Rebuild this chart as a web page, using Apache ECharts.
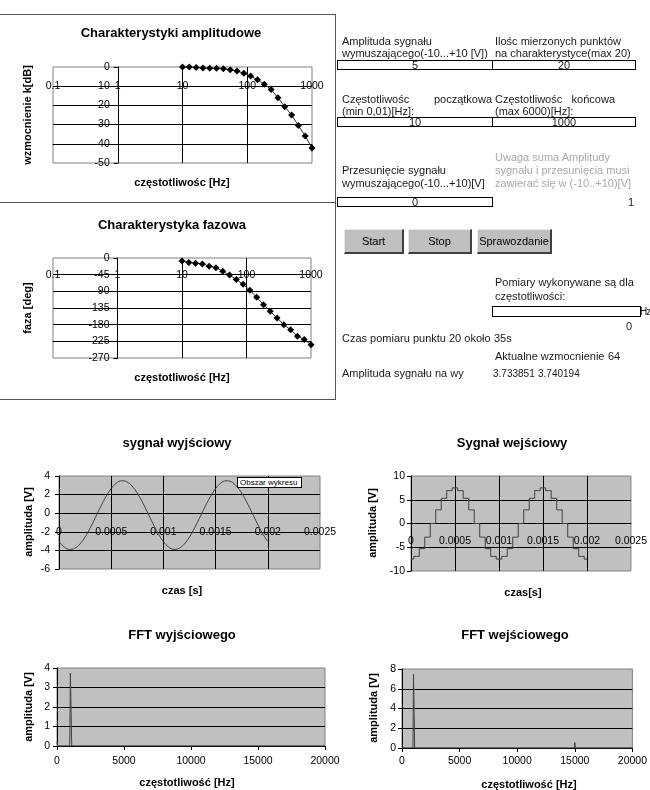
<!DOCTYPE html>
<html>
<head>
<meta charset="utf-8">
<script src="https://cdn.jsdelivr.net/npm/echarts@6/dist/echarts.min.js"></script>
<style>
  html, body { margin:0; padding:0; background:#fff; }
  body { width:650px; height:790px; overflow:hidden; position:relative;
         font-family:"Liberation Sans", Arial, sans-serif; }
  #chart { position:absolute; left:0; top:0; width:650px; height:790px; }
  .t { position:absolute; font-size:11px; line-height:13px; color:#1a1a1a; white-space:pre; }
  .g { color:#a8a8a8; }
  .nr { font-size:10px; }
  .box { position:absolute; border:1px solid #000; background:#fff; box-sizing:border-box;
         font-size:11px; color:#1a1a1a; display:flex; align-items:center; justify-content:center; }
  .btn { position:absolute; background:#c0c0c0; box-sizing:border-box; font-size:11px; color:#000;
         border-top:1px solid #e8e8e8; border-left:1px solid #e8e8e8;
         border-right:2px solid #404040; border-bottom:2px solid #404040;
         display:flex; align-items:center; justify-content:center; }
  .ln { position:absolute; background:#555; }
  .just { position:absolute; font-size:11px; line-height:13px; color:#1a1a1a;
          display:flex; justify-content:space-between; }
  .tip { position:absolute; border:1px solid #000; background:#fff; font-size:8px; line-height:9px;
         box-sizing:border-box; padding-left:2px; white-space:pre; color:#000; }
</style>
</head>
<body>
<div id="chart"></div>

<!-- ramki panelu wykresów -->
<div class="ln" style="left:0;top:14px;width:336px;height:1px"></div>
<div class="ln" style="left:335px;top:14px;width:1px;height:386px"></div>
<div class="ln" style="left:0;top:202px;width:336px;height:1px"></div>
<div class="ln" style="left:0;top:399px;width:336px;height:1px"></div>

<!-- formularz -->
<div class="t" style="left:342px;top:35px">Amplituda sygnału</div>
<div class="t" style="left:342px;top:47px">wymuszającego(-10...+10 [V])</div>
<div class="t" style="left:495px;top:35px">Ilośc mierzonych punktów</div>
<div class="t" style="left:495px;top:47px">na charakterystyce(max 20)</div>
<div class="box" style="left:337px;top:60px;width:156px;height:10px">5</div>
<div class="box" style="left:492px;top:60px;width:144px;height:10px">20</div>

<div class="just" style="left:342px;top:93px;width:150px"><span>Częstotliwośc</span><span>początkowa</span></div>
<div class="t" style="left:342px;top:105px">(min 0,01)[Hz]:</div>
<div class="just" style="left:495px;top:93px;width:120px"><span>Częstotliwośc</span><span>końcowa</span></div>
<div class="t" style="left:495px;top:105px">(max 6000)[Hz]:</div>
<div class="box" style="left:337px;top:117px;width:156px;height:10px">10</div>
<div class="box" style="left:492px;top:117px;width:144px;height:10px">1000</div>

<div class="t g" style="left:495px;top:151px">Uwaga suma Amplitudy</div>
<div class="t g" style="left:495px;top:164px">sygnału i przesunięcia musi</div>
<div class="t g" style="left:495px;top:177px">zawierać się w (-10..+10)[V]</div>
<div class="t" style="left:342px;top:164px">Przesunięcie sygnału</div>
<div class="t" style="left:342px;top:177px">wymuszającego(-10...+10)[V]</div>
<div class="box" style="left:337px;top:197px;width:156px;height:10px">0</div>
<div class="t" style="left:628px;top:196px">1</div>

<div class="btn" style="left:344px;top:229px;width:60px;height:25px">Start</div>
<div class="btn" style="left:408px;top:229px;width:64px;height:25px">Stop</div>
<div class="btn" style="left:477px;top:229px;width:75px;height:25px">Sprawozdanie</div>

<div class="t" style="left:495px;top:276px">Pomiary wykonywane są dla</div>
<div class="t" style="left:495px;top:290px">częstotliwości:</div>
<div class="box" style="left:492px;top:306px;width:149px;height:11px"></div>
<div class="t" style="left:640px;top:305px;font-size:10px;letter-spacing:-1px">Hz</div>
<div class="t" style="left:626px;top:320px">0</div>

<div class="t" style="left:342px;top:332px">Czas pomiaru punktu 20 około</div>
<div class="t" style="left:494px;top:332px">35s</div>
<div class="t" style="left:495px;top:350px">Aktualne wzmocnienie</div>
<div class="t" style="left:608px;top:350px">64</div>
<div class="t" style="left:342px;top:367px">Amplituda sygnału na wy</div>
<div class="t nr" style="left:493px;top:367px">3.733851</div>
<div class="t nr" style="left:538px;top:367px">3.740194</div>

<div class="tip" style="left:237px;top:477px;width:65px;height:11px">Obszar wykresu</div>

<script>
// dane charakterystyk (20 punktow 10..1000 Hz)
var freq = [10, 12.743, 16.238, 20.691, 26.367, 33.598, 42.813, 54.556, 69.519, 88.587,
            112.88, 143.84, 183.30, 233.57, 297.64, 379.27, 483.29, 615.85, 784.76, 1000];
var ampDb = [0, 0, -0.2, -0.5, -0.7, -0.7, -0.9, -1.4, -2.1, -3.3,
             -4.7, -6.6, -9.0, -11.7, -16.0, -20.7, -25.0, -30.5, -35.9, -42.2];
var phaseDeg = [-8, -12, -14, -16, -22, -26, -36, -46, -58, -71,
                -87, -106, -126, -144, -162, -180, -194, -211, -220, -234];

// sygnal wyjsciowy
var timeOut = [0, 0.00005, 0.0001, 0.00015, 0.0002, 0.00025, 0.0003, 0.00035, 0.0004, 0.00045,
               0.0005, 0.00055, 0.0006, 0.00065, 0.0007, 0.00075, 0.0008, 0.00085, 0.0009, 0.00095,
               0.001, 0.00105, 0.0011, 0.00115, 0.0012, 0.00125, 0.0013, 0.00135, 0.0014, 0.00145,
               0.0015, 0.00155, 0.0016, 0.00165, 0.0017, 0.00175, 0.0018, 0.00185, 0.0019, 0.00195, 0.002];
var sigOut = [-3.05, -3.64, -3.89, -3.78, -3.32, -2.56, -1.56, -0.43, 0.72, 1.78,
              2.65, 3.24, 3.49, 3.38, 2.92, 2.16, 1.16, 0.03, -1.12, -2.18,
              -3.05, -3.64, -3.89, -3.78, -3.32, -2.56, -1.56, -0.43, 0.72, 1.78,
              2.65, 3.24, 3.49, 3.38, 2.92, 2.16, 1.16, 0.03, -1.12, -2.18, -3.05];

// sygnal wejsciowy (schodkowy)
var timeIn = [0, 0.0000625, 0.000125, 0.0001875, 0.00025, 0.0003125, 0.000375, 0.0004375,
              0.0005, 0.0005625, 0.000625, 0.0006875, 0.00075, 0.0008125, 0.000875, 0.0009375,
              0.001, 0.0010625, 0.001125, 0.0011875, 0.00125, 0.0013125, 0.001375, 0.0014375,
              0.0015, 0.0015625, 0.001625, 0.0016875, 0.00175, 0.0018125, 0.001875, 0.0019375, 0.002];
var sigIn = [-7.5, -6.93, -5.3, -2.87, 0, 2.87, 5.3, 6.93,
             7.5, 6.93, 5.3, 2.87, 0, -2.87, -5.3, -6.93,
             -7.5, -6.93, -5.3, -2.87, 0, 2.87, 5.3, 6.93,
             7.5, 6.93, 5.3, 2.87, 0, -2.87, -5.3, -6.93, -7.5];

// widma FFT
var fftOutFreq = [0, 50, 950, 1000, 1050, 1100, 20000];
var fftOutAmp  = [0.2, 0, 0, 3.74, 1.87, 0, 0];
var fftInFreq  = [0, 950, 1000, 1050, 1100, 14950, 15000, 15050, 20000];
var fftInAmp   = [0, 0, 7.46, 3.74, 0, 0, 0.55, 0, 0];

function pairs(xs, ys) { return xs.map(function (x, i) { return [x, ys[i]]; }); }
function num(v) { return String(parseFloat(Number(v).toPrecision(6))); }

var FONT = '"Liberation Sans", Arial, sans-serif';
var black = '#000';
var gray = '#808080';
var lab = { fontSize: 10.5, color: black, fontFamily: FONT, formatter: num };

var chart = echarts.init(document.getElementById('chart'));

function titleAt(text, x, y) {
  return { text: text, left: x, top: y, textAlign: 'center', textVerticalAlign: 'middle', padding: 0,
           textStyle: { fontSize: 13, fontWeight: 'bold', color: black, fontFamily: FONT } };
}
function nameAt(text, x, y, rot) {
  return { type: 'text', x: x, y: y, rotation: rot ? Math.PI / 2 : 0,
           style: { text: text, align: 'center', verticalAlign: 'middle',
                    font: 'bold 11px ' + FONT, fill: black } };
}
function splitBlack() {
  return { show: true, showMinLine: false, showMaxLine: false, lineStyle: { color: black, width: 1 } };
}

var option = {
  animation: false,
  title: [
    titleAt('Charakterystyki amplitudowe', 171, 33),
    titleAt('Charakterystyka fazowa', 172, 225),
    titleAt('sygnał wyjściowy', 177, 443),
    titleAt('Sygnał wejściowy', 512, 443),
    titleAt('FFT wyjściowego', 182, 635),
    titleAt('FFT wejściowego', 515, 635)
  ],
  graphic: [
    nameAt('wzmocnienie k[dB]', 28, 115, true),
    nameAt('częstotliwośc [Hz]', 182, 183, false),
    nameAt('faza [deg]', 28, 308, true),
    nameAt('częstotliwość [Hz]', 182, 378, false),
    nameAt('amplituda [V]', 29, 522, true),
    nameAt('czas [s]', 182, 591, false),
    nameAt('amplituda [V]', 373, 523, true),
    nameAt('czas[s]', 523, 593, false),
    nameAt('amplituda [V]', 29, 707, true),
    nameAt('częstotliwość [Hz]', 187, 783, false),
    nameAt('amplituda [V]', 374, 708, true),
    nameAt('częstotliwość [Hz]', 529, 785, false)
  ],
  grid: [
    { left: 53, top: 67, width: 259, height: 96, show: true, backgroundColor: '#fff', borderColor: gray, borderWidth: 1 },
    { left: 53, top: 258, width: 258, height: 100, show: true, backgroundColor: '#fff', borderColor: gray, borderWidth: 1 },
    { left: 59, top: 476, width: 261, height: 93, show: true, backgroundColor: '#c0c0c0', borderColor: gray, borderWidth: 1 },
    { left: 411, top: 476, width: 232, height: 95, show: true, backgroundColor: '#c0c0c0', borderColor: gray, borderWidth: 1 },
    { left: 57, top: 668, width: 268, height: 78, show: true, backgroundColor: '#c0c0c0', borderColor: gray, borderWidth: 1 },
    { left: 402, top: 669, width: 245, height: 79, show: true, backgroundColor: '#c0c0c0', borderColor: gray, borderWidth: 1 }
  ],
  xAxis: [
    { gridIndex: 0, type: 'log', logBase: 10, min: 0.1, max: 1000, offset: -76.8,
      axisLine: { show: true, lineStyle: { color: black } }, axisTick: { show: false },
      axisLabel: Object.assign({}, lab, { margin: 0, verticalAlign: 'middle' }), splitLine: splitBlack() },
    { gridIndex: 1, type: 'log', logBase: 10, min: 0.1, max: 1000, offset: -83.3,
      axisLine: { show: true, lineStyle: { color: black } }, axisTick: { show: false },
      axisLabel: Object.assign({}, lab, { margin: 0, verticalAlign: 'middle' }), splitLine: splitBlack() },
    { gridIndex: 2, type: 'value', min: 0, max: 0.0025, interval: 0.0005, offset: -37.2,
      axisLine: { show: true, lineStyle: { color: black } }, axisTick: { show: false },
      axisLabel: Object.assign({}, lab, { margin: 0, verticalAlign: 'middle' }), splitLine: splitBlack() },
    { gridIndex: 3, type: 'value', min: 0, max: 0.0025, interval: 0.0005, offset: -23.75,
      axisLine: { show: true, lineStyle: { color: black } }, axisTick: { show: false },
      axisLabel: Object.assign({}, lab, { margin: -6, verticalAlign: 'middle' }), splitLine: splitBlack() },
    { gridIndex: 4, type: 'value', min: 0, max: 20000, interval: 5000,
      axisLine: { show: true, lineStyle: { color: black } }, axisTick: { show: true, length: 4, lineStyle: { color: black } },
      axisLabel: Object.assign({}, lab, { margin: 10 }), splitLine: { show: false } },
    { gridIndex: 5, type: 'value', min: 0, max: 20000, interval: 5000,
      axisLine: { show: true, lineStyle: { color: black } }, axisTick: { show: true, length: 4, lineStyle: { color: black } },
      axisLabel: Object.assign({}, lab, { margin: 8 }), splitLine: { show: false } }
  ],
  yAxis: [
    { gridIndex: 0, type: 'value', min: -50, max: 0, interval: 10, offset: -64.75,
      axisLine: { show: true, lineStyle: { color: black } }, axisTick: { show: true, length: 4, lineStyle: { color: black } },
      axisLabel: Object.assign({}, lab, { margin: 8 }), splitLine: splitBlack() },
    { gridIndex: 1, type: 'value', min: -270, max: 0, interval: 45, offset: -64.5,
      axisLine: { show: true, lineStyle: { color: black } }, axisTick: { show: true, length: 4, lineStyle: { color: black } },
      axisLabel: Object.assign({}, lab, { margin: 8 }), splitLine: splitBlack() },
    { gridIndex: 2, type: 'value', min: -6, max: 4, interval: 2,
      axisLine: { show: true, lineStyle: { color: black } }, axisTick: { show: true, length: 4, lineStyle: { color: black } },
      axisLabel: Object.assign({}, lab, { margin: 9 }), splitLine: splitBlack() },
    { gridIndex: 3, type: 'value', min: -10, max: 10, interval: 5,
      axisLine: { show: true, lineStyle: { color: black } }, axisTick: { show: true, length: 4, lineStyle: { color: black } },
      axisLabel: Object.assign({}, lab, { margin: 6 }), splitLine: splitBlack() },
    { gridIndex: 4, type: 'value', min: 0, max: 4, interval: 1,
      axisLine: { show: true, lineStyle: { color: black } }, axisTick: { show: true, length: 4, lineStyle: { color: black } },
      axisLabel: Object.assign({}, lab, { margin: 7 }), splitLine: splitBlack() },
    { gridIndex: 5, type: 'value', min: 0, max: 8, interval: 2,
      axisLine: { show: true, lineStyle: { color: black } }, axisTick: { show: true, length: 4, lineStyle: { color: black } },
      axisLabel: Object.assign({}, lab, { margin: 6 }), splitLine: splitBlack() }
  ],
  series: [
    { type: 'line', xAxisIndex: 0, yAxisIndex: 0, data: pairs(freq, ampDb),
      symbol: 'diamond', symbolSize: 7, itemStyle: { color: black }, lineStyle: { color: '#333', width: 1 } },
    { type: 'line', xAxisIndex: 1, yAxisIndex: 1, data: pairs(freq, phaseDeg),
      symbol: 'diamond', symbolSize: 7, itemStyle: { color: black }, lineStyle: { color: '#333', width: 1 } },
    { type: 'line', xAxisIndex: 2, yAxisIndex: 2, data: pairs(timeOut, sigOut), smooth: 0.4,
      showSymbol: false, lineStyle: { color: '#404040', width: 1 } },
    { type: 'line', xAxisIndex: 3, yAxisIndex: 3, data: pairs(timeIn, sigIn), step: 'middle',
      showSymbol: false, lineStyle: { color: '#404040', width: 1 } },
    { type: 'line', xAxisIndex: 4, yAxisIndex: 4, data: pairs(fftOutFreq, fftOutAmp),
      showSymbol: false, lineStyle: { color: '#404040', width: 1 } },
    { type: 'line', xAxisIndex: 5, yAxisIndex: 5, data: pairs(fftInFreq, fftInAmp),
      showSymbol: false, lineStyle: { color: '#404040', width: 1 } }
  ]
};

chart.setOption(option);
</script>
</body>
</html>
